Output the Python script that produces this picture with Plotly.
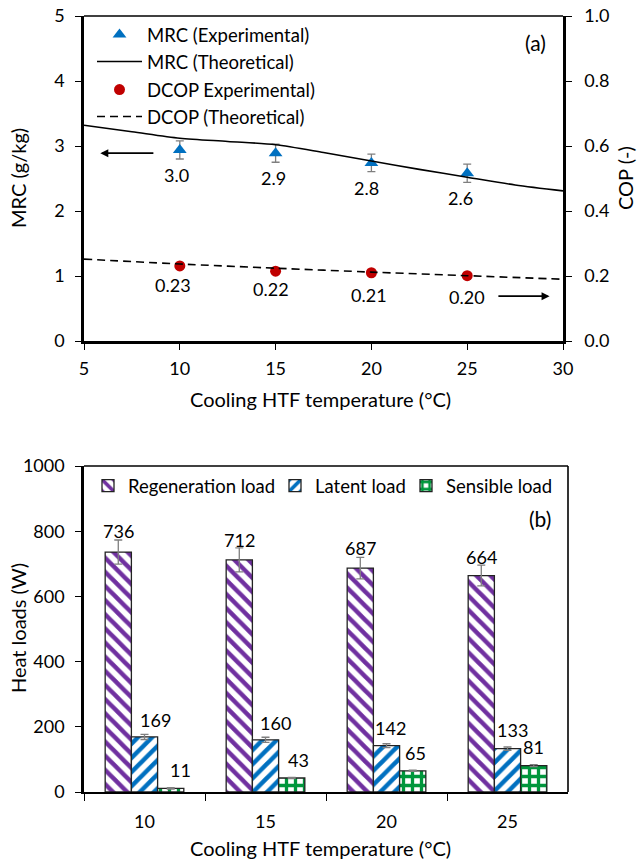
import plotly.graph_objects as go

# ---------------- data: panel (a) ----------------
temps_exp = [10, 15, 20, 25]
mrc_exp = [2.94, 2.89, 2.74, 2.58]
mrc_err = [0.14, 0.14, 0.135, 0.14]
mrc_labels = ["3.0", "2.9", "2.8", "2.6"]

temps_theo = [5, 7.5, 10, 12.5, 15, 17.5, 20, 22.5, 25, 27.5, 30]
mrc_theo = [3.32, 3.22, 3.12, 3.07, 3.02, 2.90, 2.77, 2.64, 2.52, 2.40, 2.31]

dcop_exp = [0.231, 0.215, 0.210, 0.201]
dcop_labels = ["0.23", "0.22", "0.21", "0.20"]
temps_dcop_theo = [5, 10, 15, 20, 25, 30]
dcop_theo = [0.252, 0.237, 0.224, 0.212, 0.201, 0.190]

# ---------------- data: panel (b) ----------------
categories = ["10", "15", "20", "25"]
regen = [736, 712, 687, 664]
regen_err = [37, 37, 33, 32]
latent = [169, 160, 142, 133]
latent_err = [8, 8, 6, 5]
sensible = [11, 43, 65, 81]
sensible_err = [2, 2, 2, 3]

# label offsets (pixels) for value labels
regen_dx = [0, 0, 0, 0]
regen_dy = [9, 8, 9, 8]
latent_dx = [11, 10, 4, 5]
latent_dy = [14, 14, 16, 17]
sens_dx = [10, 7, 3, 0]
sens_dy = [18, 17, 17, 18]
mrc_dx = [-3, -2, -5, -7]
dcop_dx = [-7, -5, -2, 0]
dcop_dy = [-19, -18, -22, -21]

FONT = "Lato, 'Open Sans', sans-serif"
FS_TICK = 18
FS_TITLE = 20
FS_LEG = 18.5
FS_LAB = 18
W, H = 639, 864

C_PURPLE = "#7030A0"
C_BLUE = "#0070C0"
C_GREEN = "#00963C"
C_RED = "#C00000"
C_TRI = "#0070C0"
C_ERR = "#7F7F7F"

fig = go.Figure()

# ---- panel (a) traces ----
fig.add_trace(go.Scatter(
    x=temps_exp, y=mrc_exp, mode="markers", name="MRC (Experimental)",
    marker=dict(symbol="triangle-up", size=12, color=C_TRI),
    error_y=dict(type="data", array=mrc_err, color=C_ERR, thickness=1.3, width=4),
    xaxis="x", yaxis="y", legend="legend"))
fig.add_trace(go.Scatter(
    x=temps_theo, y=mrc_theo, mode="lines", name="MRC (Theoretical)",
    line=dict(color="black", width=1.6, shape="spline", smoothing=0.8),
    xaxis="x", yaxis="y", legend="legend2"))
fig.add_trace(go.Scatter(
    x=temps_exp, y=dcop_exp, mode="markers", name="DCOP Experimental)",
    marker=dict(symbol="circle", size=11, color=C_RED),
    xaxis="x", yaxis="y2", legend="legend3"))
fig.add_trace(go.Scatter(
    x=temps_dcop_theo, y=dcop_theo, mode="lines", name="DCOP (Theoretical)",
    line=dict(color="black", width=1.6, dash="8px,5px", shape="spline", smoothing=0.6),
    xaxis="x", yaxis="y2", legend="legend4"))

# ---- panel (b) traces ----
fig.add_trace(go.Bar(
    x=categories, y=regen, name="Regeneration load",
    marker=dict(color="white", line=dict(color="#222222", width=1.3),
                pattern=dict(shape="\\", fgcolor=C_PURPLE, bgcolor="white", size=10,
                             solidity=0.45, fgopacity=1, fillmode="replace")),
    error_y=dict(type="data", array=regen_err, color=C_ERR, thickness=1.3, width=4),
    xaxis="x2", yaxis="y3", legend="legend5"))
fig.add_trace(go.Bar(
    x=categories, y=latent, name="Latent load",
    marker=dict(color="white", line=dict(color="#222222", width=1.3),
                pattern=dict(shape="/", fgcolor=C_BLUE, bgcolor="white", size=10,
                             solidity=0.45, fgopacity=1, fillmode="replace")),
    error_y=dict(type="data", array=latent_err, color=C_ERR, thickness=1.3, width=4),
    xaxis="x2", yaxis="y3", legend="legend6"))
fig.add_trace(go.Bar(
    x=categories, y=sensible, name="Sensible load",
    marker=dict(color="white", line=dict(color="#222222", width=1.3),
                pattern=dict(shape="+", fgcolor=C_GREEN, bgcolor="white", size=9,
                             solidity=0.6, fgopacity=1, fillmode="replace")),
    error_y=dict(type="data", array=sensible_err, color=C_ERR, thickness=1.3, width=4),
    xaxis="x2", yaxis="y3", legend="legend7"))

lab_font = dict(family=FONT, size=FS_LAB, color="black")
annotations = []
# MRC labels
for x, y, t, dx in zip(temps_exp, mrc_exp, mrc_labels, mrc_dx):
    annotations.append(dict(x=x, y=y, xref="x", yref="y", text=t, showarrow=False,
                            xshift=dx, yshift=-25, font=lab_font))
# DCOP labels
for x, y, t, dx, dy in zip(temps_exp, dcop_exp, dcop_labels, dcop_dx, dcop_dy):
    annotations.append(dict(x=x, y=y, xref="x", yref="y2", text=t, showarrow=False,
                            xshift=dx, yshift=dy, font=lab_font))
# arrows
annotations.append(dict(x=5.85, y=2.89, ax=8.7, ay=2.89, xref="x", yref="y", axref="x", ayref="y",
                        text="", showarrow=True, arrowhead=2, arrowsize=1, arrowwidth=1.6,
                        arrowcolor="black"))
annotations.append(dict(x=29.3, y=0.69, ax=26.55, ay=0.69, xref="x", yref="y", axref="x", ayref="y",
                        text="", showarrow=True, arrowhead=2, arrowsize=1, arrowwidth=1.6,
                        arrowcolor="black"))
# bar labels (category index used as x position on the category axis)
bar_w = 26
for vals, errs, dxs, dys, off in ((regen, regen_err, regen_dx, regen_dy, -bar_w),
                                  (latent, latent_err, latent_dx, latent_dy, 0),
                                  (sensible, sensible_err, sens_dx, sens_dy, bar_w)):
    for i, (v, e, dx, dy) in enumerate(zip(vals, errs, dxs, dys)):
        annotations.append(dict(x=i, y=v + e, xref="x2", yref="y3", text=str(v), showarrow=False,
                                xshift=off + dx, yshift=dy, yanchor="middle", font=lab_font))


def paper_text(xpx, ypx, text, size, angle=0):
    return dict(x=xpx / W, y=1 - ypx / H, xref="paper", yref="paper", text=text,
                xanchor="center", yanchor="middle", textangle=angle, showarrow=False,
                font=dict(family=FONT, size=size, color="black"))


annotations += [
    paper_text(535, 43, "(a)", 21),
    paper_text(540, 518, "(b)", 21),
    paper_text(18, 178, "MRC (g/kg)", FS_TITLE, -90),
    paper_text(625, 178, "COP (-)", FS_TITLE, -90),
    paper_text(320, 399, "Cooling HTF temperature (°C)", FS_TITLE),
    paper_text(18, 628, "Heat loads (W)", FS_TITLE, -90),
    paper_text(320, 848, "Cooling HTF temperature (°C)", FS_TITLE),
]

shapes = [
    dict(type="line", xref="x domain", yref="y domain", x0=0, x1=1, y0=1, y1=1,
         line=dict(color="black", width=1.6)),
    dict(type="line", xref="x2 domain", yref="y3 domain", x0=0, x1=1, y0=1, y1=1,
         line=dict(color="black", width=1.6)),
    dict(type="line", xref="x2 domain", yref="y3 domain", x0=1, x1=1, y0=0, y1=1,
         line=dict(color="black", width=1.6)),
]

tickfont = dict(family=FONT, size=FS_TICK, color="black")
ax_common = dict(showgrid=False, zeroline=False, showline=True, linecolor="black",
                 ticks="outside", tickcolor="black", tickfont=tickfont, automargin=False)


def leg(ypx, xpx, itemwidth=45):
    return dict(x=xpx / W, y=1 - ypx / H, xanchor="left", yanchor="middle",
                bgcolor="rgba(0,0,0,0)", font=dict(family=FONT, size=FS_LEG, color="black"),
                itemwidth=itemwidth, borderwidth=0, tracegroupgap=0)


fig.update_layout(
    width=W, height=H, margin=dict(l=0, r=0, t=0, b=0, autoexpand=False),
    paper_bgcolor="white", plot_bgcolor="white",
    font=dict(family=FONT, size=FS_TICK, color="black"),
    barmode="group", bargap=0.35, bargroupgap=0,
    xaxis=dict(domain=[84 / W, 563 / W], anchor="y", range=[5, 30], tickvals=[5, 10, 15, 20, 25, 30],
               linewidth=2.5, ticklen=6, ticklabelstandoff=4, **ax_common),
    yaxis=dict(domain=[(H - 341) / H, (H - 16) / H], anchor="x", range=[0, 5],
               tickvals=[0, 1, 2, 3, 4, 5], linewidth=2.5, ticklen=6, ticklabelstandoff=7,
               **ax_common),
    yaxis2=dict(overlaying="y", side="right", anchor="x", range=[0, 1],
                tickvals=[0, 0.2, 0.4, 0.6, 0.8, 1.0], tickformat=".1f",
                linewidth=2.5, ticklen=6, ticklabelstandoff=9, **ax_common),
    xaxis2=dict(domain=[84 / W, 568 / W], anchor="y3", type="category", range=[-0.5, 3.5],
                tickson="boundaries", linewidth=2, ticklen=7, ticklabelstandoff=12, **ax_common),
    yaxis3=dict(domain=[(H - 792) / H, (H - 466) / H], anchor="x2", range=[0, 1000],
                tickvals=[0, 200, 400, 600, 800, 1000], linewidth=2.5, ticklen=6,
                ticklabelstandoff=7, **ax_common),
    legend=leg(35, 92),
    legend2=leg(62, 92),
    legend3=leg(90, 92),
    legend4=leg(117, 92),
    legend5=leg(486, 88, 30),
    legend6=leg(486, 275, 30),
    legend7=leg(486, 406, 30),
    annotations=annotations,
    shapes=shapes,
    showlegend=True,
)

fig.write_html("out.html")
